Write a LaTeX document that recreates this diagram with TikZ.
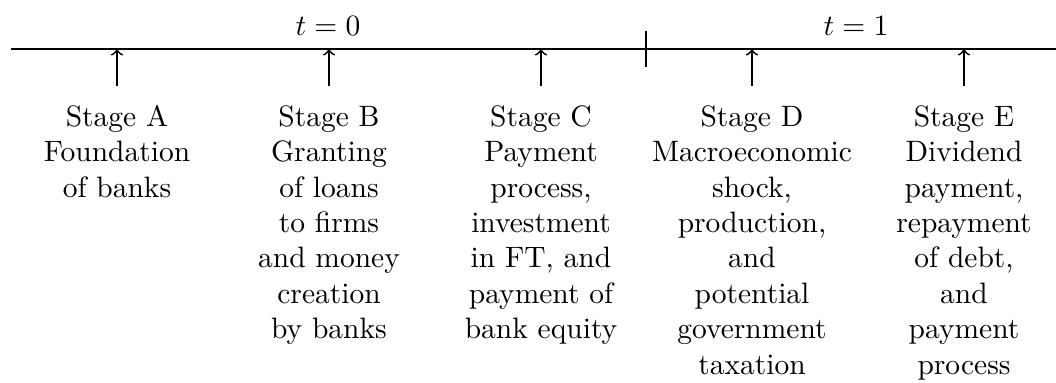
\documentclass[tikz,border=0pt]{standalone}
\begin{document}
\begin{tikzpicture}[x=0.339pt,y=-0.339pt,
  axis/.style={line width=0.6pt},
  stagearrow/.style={line width=0.6pt,->},
  stagetext/.style={anchor=north,inner sep=0pt,align=center,font=\fontsize{10}{12}\selectfont},
  timelabel/.style={anchor=base,inner sep=0pt}]
\useasboundingbox (0,0) rectangle (1056,383);
\coordinate (L) at (11,49);
\coordinate (R) at (1056,49);
\draw[axis] (L) -- (R);
\coordinate (tk1) at (646,31);
\coordinate (tk2) at (646,67);
\draw[axis] (tk1) -- (tk2);
\node[timelabel] (t0) at (328,36) {$t=0$};
\node[timelabel] (t1) at (856,36) {$t=1$};
\foreach \n/\x in {A/117,B/329,C/541,D/752,E/964}{
  \coordinate (s\n) at (\x,86);
  \coordinate (e\n) at (\x,49);
  \draw[stagearrow] (s\n) -- (e\n);
}
\node[stagetext] (A) at (117,101) {\strut Stage A\\Foundation\\of banks};
\node[stagetext] (B) at (329,101) {\strut Stage B\\Granting\\of loans\\to firms\\and money\\creation\\by banks};
\node[stagetext] (C) at (541,101) {\strut Stage C\\Payment\\process,\\investment\\in FT, and\\payment of\\bank equity};
\node[stagetext] (D) at (752,101) {\strut Stage D\\Macroeconomic\\shock,\\production,\\and\\potential\\government\\taxation};
\node[stagetext] (E) at (964,101) {\strut Stage E\\Dividend\\payment,\\repayment\\of debt,\\and\\payment\\process};
\end{tikzpicture}
\end{document}
